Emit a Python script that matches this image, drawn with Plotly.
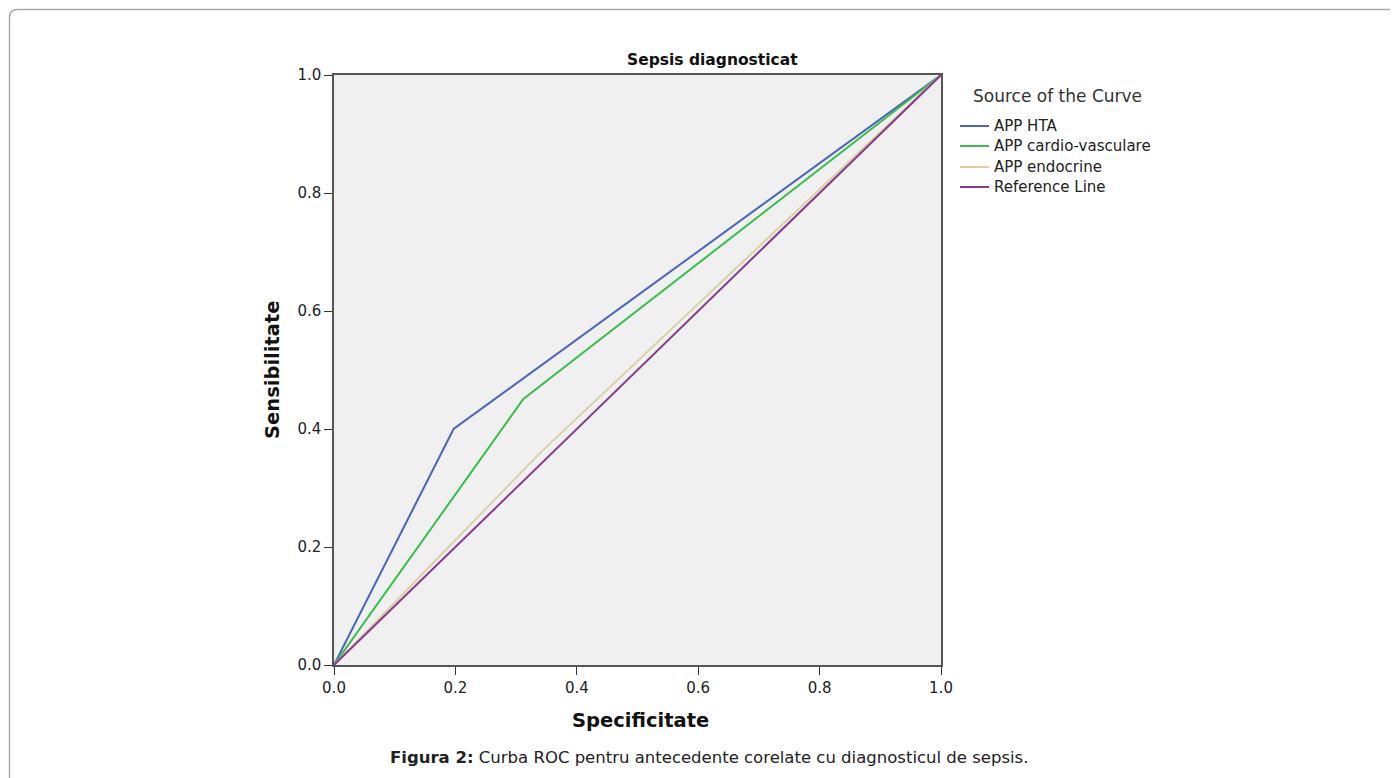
import plotly.graph_objects as go

# ---- data ----
series_names = ["APP HTA", "APP cardio-vasculare", "APP endocrine", "Reference Line"]
hta_x = [0.0, 0.197, 1.0]
hta_y = [0.0, 0.400, 1.0]
cv_x = [0.0, 0.312, 1.0]
cv_y = [0.0, 0.451, 1.0]
endo_x = [0.0, 0.340, 1.0]
endo_y = [0.0, 0.360, 1.0]
ref_x = [0.0, 1.0]
ref_y = [0.0, 1.0]
tick_vals = [0.0, 0.2, 0.4, 0.6, 0.8, 1.0]
tick_text = ["0.0", "0.2", "0.4", "0.6", "0.8", "1.0"]

colors = ["#4a64be", "#36c04a", "#d8d3a0", "#8a3a8e"]

OFF = 8  # page body margin
W, H = 1398 - OFF, 778 - OFF
L, R, T, B = 334 - OFF, 941 - OFF, 75 - OFF, 665 - OFF  # plot area in figure px


def px_x(p):
    """page pixel x -> paper coordinate"""
    return (p - OFF - L) / (R - L)


def px_y(p):
    """page pixel y -> paper coordinate"""
    return (B - (p - OFF)) / (B - T)


FONT = "DejaVu Sans, Verdana, sans-serif"
CAP_FONT = "DejaVu Sans, Arial, sans-serif"

fig = go.Figure()
for name, xs, ys, c in zip(series_names,
                           [hta_x, cv_x, endo_x, ref_x],
                           [hta_y, cv_y, endo_y, ref_y],
                           colors):
    fig.add_trace(go.Scatter(x=xs, y=ys, mode="lines", name=name,
                             line=dict(color=c, width=2), showlegend=False))

axis_common = dict(range=[0, 1], tickvals=tick_vals, ticktext=tick_text,
                   showgrid=False, zeroline=False, showline=True,
                   linecolor="#555555", linewidth=1.5, mirror=True,
                   ticks="outside", ticklen=8, tickcolor="#333333",
                   tickfont=dict(family=FONT, size=15, color="#222222"),
                   fixedrange=True)

fig.update_layout(
    width=W, height=H,
    margin=dict(l=L, r=W - R, t=T, b=H - B, pad=0),
    paper_bgcolor="white",
    plot_bgcolor="#f0f0f0",
    xaxis=dict(**axis_common),
    yaxis=dict(**axis_common),
    showlegend=False,
    font=dict(family=FONT),
)

annotations = [
    dict(text="<b>Sepsis diagnosticat</b>", x=px_x(712), y=px_y(60),
         xref="paper", yref="paper", showarrow=False, xanchor="center", yanchor="middle",
         font=dict(family=FONT, size=15.5, color="#111111")),
    dict(text="<b>Specificitate</b>", x=px_x(640), y=px_y(720),
         xref="paper", yref="paper", showarrow=False, xanchor="center", yanchor="middle",
         font=dict(family=FONT, size=19.5, color="#111111")),
    dict(text="<b>Sensibilitate</b>", x=px_x(272), y=px_y(370),
         xref="paper", yref="paper", showarrow=False, textangle=-90,
         xanchor="center", yanchor="middle",
         font=dict(family=FONT, size=19.5, color="#111111")),
    dict(text="<b>Figura 2:</b> Curba ROC pentru antecedente corelate cu diagnosticul de sepsis.",
         x=px_x(709), y=px_y(757), xref="paper", yref="paper", showarrow=False,
         xanchor="center", yanchor="middle",
         font=dict(family=CAP_FONT, size=16.5, color="#222222")),
    dict(text="Source of the Curve", x=px_x(971), y=px_y(96),
         xref="paper", yref="paper", showarrow=False, xanchor="left", yanchor="middle",
         font=dict(family=FONT, size=17, color="#333333")),
]

# manual legend
legend_y = [126, 146, 167, 187]
for name, c, ly in zip(series_names, colors, legend_y):
    fig.add_shape(type="line", xref="paper", yref="paper",
                  x0=px_x(960), x1=px_x(989), y0=px_y(ly), y1=px_y(ly),
                  line=dict(color=c, width=2))
    annotations.append(dict(text=name, x=px_x(992), y=px_y(ly), xref="paper", yref="paper",
                            showarrow=False, xanchor="left", yanchor="middle",
                            font=dict(family=FONT, size=15, color="#222222")))

fig.update_layout(annotations=annotations)

# card border (rounded top-left corner), extending beyond the window
r = 8
x0, y0 = 9.5, 9.5
path = (f"M {px_x(x0)},{px_y(800)} L {px_x(x0)},{px_y(y0 + r)} "
        f"Q {px_x(x0)},{px_y(y0)} {px_x(x0 + r)},{px_y(y0)} "
        f"L {px_x(1420)},{px_y(y0)}")
fig.add_shape(type="path", path=path, xref="paper", yref="paper",
              line=dict(color="#aaaaaa", width=1.5), layer="below")

fig.write_html("out.html")
